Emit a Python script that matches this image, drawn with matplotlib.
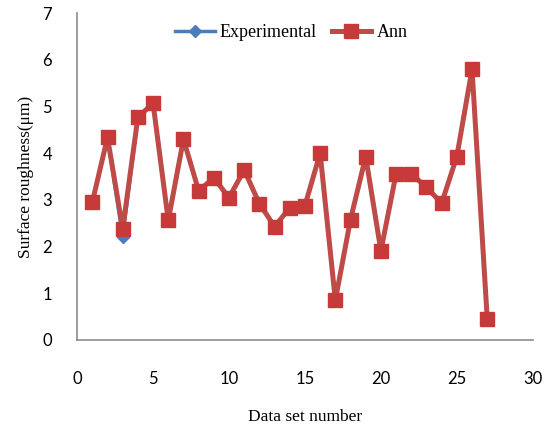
import matplotlib
matplotlib.use("Agg")
import matplotlib.pyplot as plt

data_set = list(range(1, 28))
ann = [2.95, 4.34, 2.38, 4.77, 5.07, 2.56, 4.30, 3.20, 3.47, 3.05,
       3.64, 2.92, 2.43, 2.83, 2.88, 4.00, 0.85, 2.58, 3.93, 1.91,
       3.56, 3.56, 3.27, 2.93, 3.93, 5.80, 0.46]
experimental = [2.95, 4.34, 2.20, 4.77, 5.07, 2.56, 4.30, 3.20, 3.47, 3.05,
                3.64, 2.92, 2.43, 2.83, 2.88, 4.00, 0.85, 2.58, 3.93, 1.91,
                3.56, 3.56, 3.27, 2.93, 3.93, 5.80, 0.46]
x_ticks = [0, 5, 10, 15, 20, 25, 30]
y_ticks = [0, 1, 2, 3, 4, 5, 6, 7]

fig = plt.figure(figsize=(5.47, 4.25), dpi=100)
ax = fig.add_axes([0.141, 0.2, 0.833, 0.769])

ax.plot(data_set, experimental, color='#4A7EBB', lw=2.5, marker='D',
        markersize=6, label='Experimental', zorder=2)
ax.plot(data_set, ann, color='#BE4B48', lw=3.6, marker='s',
        markersize=10, markerfacecolor='#C83A3A', markeredgecolor='#C83A3A',
        label='Ann', zorder=3)

ax.set_xlim(0, 30)
ax.set_ylim(0, 7)
ax.set_xticks(x_ticks)
ax.set_yticks(y_ticks)
ax.tick_params(length=0, labelsize=12)
for lab in ax.get_xticklabels() + ax.get_yticklabels():
    lab.set_family('Lato')
ax.tick_params(axis='x', pad=22)
ax.tick_params(axis='y', pad=18)

for s in ['top', 'right']:
    ax.spines[s].set_visible(False)
for s in ['left', 'bottom']:
    ax.spines[s].set_color('#8C8C8C')
    ax.spines[s].set_linewidth(1.2)

ax.set_xlabel('Data set number', fontfamily='Liberation Serif', fontsize=12.5, labelpad=16)
ax.set_ylabel('Surface roughness(μm)', fontfamily='Liberation Serif', fontsize=12.5, labelpad=6)

leg = ax.legend(loc='upper center', bbox_to_anchor=(0.47, 1.0), ncol=2, frameon=False,
                prop={'family': 'Liberation Serif', 'size': 13}, handlelength=2.2,
                columnspacing=0.8, handletextpad=0.3, borderaxespad=0.2)

fig.savefig('out.png', dpi=100)
